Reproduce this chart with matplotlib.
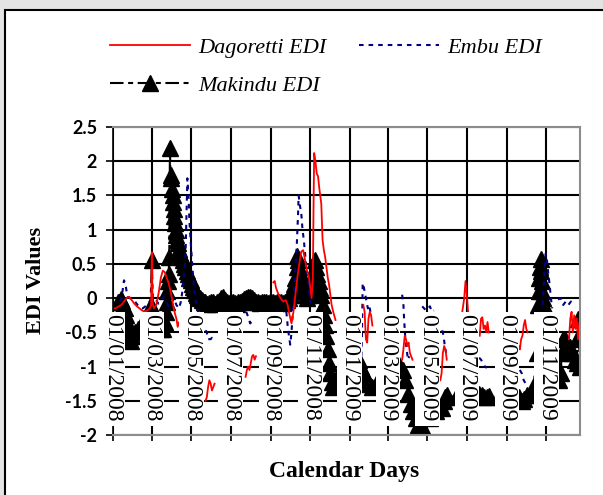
import numpy as np
import matplotlib
matplotlib.use('Agg')
import matplotlib.pyplot as plt
import matplotlib.dates as mdates
from matplotlib.patches import Rectangle
from matplotlib.font_manager import FontProperties
import pandas as pd

# daily EDI; day = days since 01/01/2008, nan = gap
START = np.datetime64('2008-01-01')
END = np.datetime64('2009-12-23')
nan = np.nan

dag_day = [0, 4, 9, 13, 17, 21, 25, 29, 33, 37, 41, 45, 49, 53, 57, 59, 60, 61, 63, 67, 71, 74,
           77, 80, 83, 86, 89, 92, 95, 98, 100, 102, 104, 120,
           143, 145, 147, 149, 151, 153, 155, 157, 180,
           205, 207, 209, 211, 213, 215, 217, 219, 221, 235,
           248, 250, 252, 254, 256, 259, 263, 267, 270, 273, 276, 279, 282, 285, 288, 291, 294,
           297, 300, 303, 305, 307, 309, 310, 311, 313, 315, 317, 319, 321, 322, 323, 324, 326,
           328, 330, 332, 334, 336, 338, 341, 344, 365,
           387, 389, 391, 393, 395, 397, 399, 401, 425,
           447, 449, 451, 453, 455, 457, 459, 461, 463, 490,
           506, 508, 510, 512, 514, 516, 530,
           540, 543, 545, 547, 549, 558,
           567, 569, 571, 573, 575, 577, 579, 581, 600,
           627, 629, 631, 633, 635, 637, 639, 641, 670,
           705, 707, 709, 711, 713, 715, 717, 719, 721]
dag_edi = [-0.15, -0.15, -0.12, -0.1, -0.05, 0.0, 0.02, -0.03, -0.08, -0.12, -0.15, -0.18, -0.2,
           -0.18, -0.15, -0.1, 0.67, -0.05, -0.15, -0.1, 0.1, 0.3,
           0.4, 0.38, 0.3, 0.22, 0.1, -0.05, -0.2, -0.3, -0.42, -0.35, -0.4, nan,
           -1.5, -1.45, -1.3, -1.2, -1.25, -1.35, -1.3, -1.25, nan,
           -1.15, -1.05, -1.0, -1.05, -0.95, -0.85, -0.83, -0.9, -0.85, nan,
           0.23, 0.25, 0.15, 0.1, 0.05, 0.0, -0.05, -0.03, -0.1, -0.25, -0.37, -0.2, 0.05, 0.3,
           0.5, 0.68, 0.7, 0.55, 0.4, 0.3, 0.15, 0.0, 0.3, 1.3, 2.12, 2.0, 1.82, 1.78, 1.6, 1.45,
           1.38, 1.1, 0.85, 0.7, 0.6, 0.45, 0.3, 0.2, 0.05, -0.1, -0.22, -0.32, nan,
           -0.1, -0.2, -0.6, -0.65, -0.3, -0.2, -0.25, -0.4, nan,
           -0.9, -0.75, -0.55, -0.6, -0.7, -0.65, -0.8, -0.85, -0.9, nan,
           -1.2, -1.1, -0.8, -0.7, -0.75, -0.9, nan,
           -0.2, 0.0, 0.25, 0.05, -0.2, nan,
           -0.55, -0.3, -0.28, -0.45, -0.4, -0.5, -0.35, -0.5, nan,
           -0.7, -0.75, -0.6, -0.55, -0.4, -0.32, -0.45, -0.5, nan,
           -0.6, -0.3, -0.2, -0.5, -0.25, -0.45, -0.3, -0.6, -0.35]

emb_day = [10, 13, 15, 17, 19, 21, 23, 26, 30, 34, 38, 42, 46, 50, 54, 58, 62, 66, 70, 74, 78,
           82, 86, 90, 94, 98, 102, 105, 108, 110, 112, 113, 114, 115, 116, 117, 118, 120, 122,
           124, 126, 128, 130, 133, 137,
           143, 145, 147, 149, 151, 153, 155, 175,
           206, 208, 210, 212, 214, 240,
           268, 270, 272, 274, 276, 278, 280, 282, 284, 286, 287, 289, 291, 293, 295, 297, 299,
           301, 303, 305, 307, 320,
           384, 385, 386, 388, 390, 392, 394, 396, 398, 420,
           447, 449, 450, 451, 452, 454, 456, 458, 470,
           478, 481, 484, 487, 490, 493, 496, 503,
           509, 511, 513, 515, 540,
           566, 569, 572, 575, 578, 600,
           629, 632, 635, 638, 641, 652,
           664, 666, 668, 669, 671, 673, 675, 677, 679, 684,
           688, 692, 696, 700, 704, 708, 712]
emb_edi = [-0.05, 0.0, 0.12, 0.26, 0.22, 0.1, 0.02, 0.0, -0.02, -0.05, -0.1, -0.14, -0.15, -0.12,
           -0.08, -0.03, 0.0, -0.02, -0.08, -0.05, 0.02,
           -0.05, -0.12, -0.08, 0.0, -0.1, -0.15, -0.05, 0.15, 0.35, 0.6, 1.0, 1.4, 1.75, 1.6,
           1.45, 1.15, 0.85, 0.55, 0.3, 0.1, -0.05, -0.15, -0.25, nan,
           -0.47, -0.5, -0.6, -0.6, -0.6, -0.58, -0.6, nan,
           -0.2, -0.25, -0.3, -0.37, -0.35, nan,
           -0.2, -0.4, -0.55, -0.68, -0.5, -0.2, 0.1, 0.45, 0.75, 1.2, 1.5, 1.35, 1.25, 1.0,
           0.85, 0.65, 0.45, 0.3, 0.1, -0.05, -0.15, nan,
           -0.85, -0.5, 0.22, 0.15, 0.05, -0.05, -0.15, -0.1, -0.2, nan,
           0.05, -0.1, -0.3, -0.45, -0.6, -0.75, -0.9, -0.85, nan,
           -0.12, -0.15, -0.18, -0.15, -0.12, -0.2, -0.18, nan,
           -0.47, -0.55, -0.7, -0.8, nan,
           -0.87, -0.9, -0.95, -1.0, -1.02, nan,
           -1.05, -1.1, -1.2, -1.25, -1.3, nan,
           -0.1, 0.2, 0.5, 0.65, 0.55, 0.35, 0.2, 0.0, -0.15, nan,
           -0.02, 0.0, -0.1, -0.05, -0.1, -0.05, -0.1]

mak_day = [8, 10, 12, 14, 16, 18, 20, 22, 24, 26, 28, 30, 34, 38, 44, 50, 55, 58, 60, 62, 66, 70,
           74, 78, 80, 82, 83, 84, 85, 86, 87, 88, 89, 90, 91, 92, 93, 94, 95, 96, 97, 98, 99, 100,
           102, 104, 106, 108, 110, 112, 114, 116, 118, 120, 122, 124, 126, 128, 130, 132, 134,
           137, 140, 143, 146, 149, 152, 155, 158, 161, 164, 167, 170, 173, 176, 179, 182, 185,
           188, 191, 194, 197, 200, 203, 206, 209, 212, 215, 218, 221, 224, 227, 230, 233, 236,
           239, 242, 245, 248, 251, 254, 257, 260, 263, 266, 269, 272, 275, 278, 280, 282, 284,
           285, 286, 288, 290, 292, 294, 296, 298, 300, 302, 304, 306, 308, 310, 312, 313, 314,
           316, 318, 320, 322, 324, 326, 328, 330, 332, 334, 336, 338, 340, 344, 350, 358, 366,
           372, 376, 380, 384, 388, 392, 396, 400, 410, 420, 430, 440, 444, 448, 452, 456, 460,
           464, 468, 472, 476, 480, 490, 500, 508, 511, 514, 517, 530, 550, 566, 570, 574, 578,
           582, 600, 620, 628, 632, 636, 640, 644, 650, 655, 657, 658, 659, 660, 661, 662, 663,
           664, 665, 666, 670, 676, 682, 688, 690, 692, 694, 696, 699, 702, 706, 710, 714, 717,
           718, 719, 720, 722]
mak_edi = [-0.05, -0.05, -0.02, -0.04, -0.1, -0.15, -0.25, -0.35, -0.45, -0.55, -0.62, -0.55,
           -0.5, -0.45, -0.4, -0.35, -0.3, -0.1, 0.55, -0.2, -0.35, -0.4,
           -0.45, -0.45, -0.35, -0.2, -0.05, 0.1, 0.25, 0.35, 0.6, 2.2, 1.8, 1.75, 1.6, 1.5, 1.4,
           1.3, 1.2, 1.1, 1.0, 0.92, 0.85, 0.8,
           0.72, 0.66, 0.6, 0.55, 0.5, 0.45, 0.4, 0.35, 0.3, 0.26, 0.21, 0.16, 0.12, 0.08, 0.05,
           0.02, 0.0,
           -0.03, -0.05, -0.06, -0.08, -0.07, -0.05, -0.06, -0.08, -0.06, -0.04, 0.0, 0.02, -0.03,
           -0.06, -0.07, -0.06, -0.05,
           -0.07, -0.08, -0.06, -0.05, -0.04, -0.02, 0.0, 0.02, 0.02, 0.0, -0.03, -0.05, -0.06,
           -0.07, -0.06, -0.05, -0.06,
           -0.07, -0.06, -0.05, -0.06, -0.07, -0.06, -0.05, -0.06, -0.07, -0.05, -0.03, 0.0, 0.05,
           0.1, 0.2, 0.3, 0.45,
           0.62, 0.55, 0.45, 0.35, 0.3, 0.2, 0.1, 0.05, 0.0, 0.05, 0.1, 0.15, 0.25, 0.35, 0.45,
           0.55, 0.45,
           0.35, 0.25, 0.15, 0.05, -0.1, -0.25, -0.4, -0.55, -0.75, -0.95, -1.1, -1.22, -1.3,
           -1.25, -1.1, -1.0, -0.95,
           -0.9, -0.85, -0.9, -1.0, -1.1, -1.2, -1.25, -1.3, -1.2, -1.1, -1.0, -0.95, -1.0, -1.05,
           -1.2, -1.4, -1.55,
           -1.65, -1.75, -1.85, -1.95, -1.9, -1.75, -1.65, -1.6, -1.5, -1.45, -1.42, -1.45, -1.45,
           -1.4, -1.42, -1.45, -1.45,
           -1.43, -1.45, -1.48, -1.45, -1.5, -1.48, -1.42, -1.42, -1.3, -0.8, -0.1, 0.1, 0.3, 0.45,
           0.57, 0.4, 0.25,
           0.1, 0.0, -0.1, -0.4, -0.7, -0.9, -1.05, -1.2, -1.1, -0.8, -0.6, -0.6, -0.65, -0.72,
           -0.8, -0.9, -0.95,
           -0.6, -0.3, -0.55, -1.0]

# tick dates (every second month) and y ticks
tick_dates = pd.date_range('2008-01-01', '2009-11-01', freq='2MS')
y_ticks = np.arange(-2.0, 2.51, 0.5)


def to_dates(days):
    return START + np.array(days, dtype='timedelta64[D]')


serif = 'Liberation Serif'

fig = plt.figure(figsize=(6.03, 4.95), dpi=100)
fig.patch.set_facecolor('#e4e4e4')
fig.add_artist(Rectangle((5 / 603, -0.1), 1.2, 1.1 - 10 / 495, transform=fig.transFigure,
                         facecolor='white', edgecolor='black', lw=1.5, zorder=-1))

ax = fig.add_axes([113 / 603, 1 - 435 / 495, (580 - 113) / 603, (435 - 127) / 495])

h_mak, = ax.plot(to_dates(mak_day), mak_edi, color='black', lw=1.5,
                 ls=(0, (6.5, 2.2, 2.4, 2.2)), marker='^', ms=11, zorder=2)
h_emb, = ax.plot(to_dates(emb_day), emb_edi, color='#000080', lw=1.5,
                 ls=(0, (2.2, 2.4)), zorder=2.1)
h_dag, = ax.plot(to_dates(dag_day), dag_edi, color='#FF0000', lw=1.3, zorder=2.2)

ax.set_xlim(START, END)
ax.set_ylim(-2, 2.5)

# date labels sit on the zero line, boxed in white (Excel style)
for t in tick_dates:
    xc = mdates.date2num(t)
    ax.add_patch(Rectangle((xc - 19, -1.87), 38, 1.67, facecolor='white', edgecolor='none',
                           zorder=3, clip_on=False))
    ax.text(t, -0.23, t.strftime('%d/%m/%Y'), rotation=270, ha='center', va='top',
            fontsize=17, family=serif, zorder=4, clip_on=False)

ax.set_xticks(tick_dates)
ax.set_xticklabels([])
ax.set_yticks(y_ticks)
ax.set_yticklabels([f'{v:g}' for v in y_ticks], fontsize=13, fontweight='bold',
                   family='Lato')
ax.tick_params(axis='x', direction='out', length=4.5, width=1.2, color='black')
ax.tick_params(axis='y', direction='out', length=5, width=1.2, pad=6.5, color='black')

ax.grid(True, color='black', lw=1.5)
ax.set_axisbelow(True)
for side in ['top', 'right', 'bottom']:
    ax.spines[side].set_color('#8c8c8c')
    ax.spines[side].set_linewidth(1.5)
ax.spines['left'].set_color('black')
ax.spines['left'].set_linewidth(1.2)

leg = ax.legend([h_dag, h_mak, h_emb], ['Dagoretti EDI', 'Makindu EDI', 'Embu EDI'],
                ncol=2, loc='upper left', bbox_to_anchor=(110 / 603, 1 - 37 / 495),
                bbox_transform=fig.transFigure, frameon=False,
                prop=FontProperties(family=serif, style='italic', size=16),
                handlelength=3.6, handletextpad=0.35, columnspacing=1.5, labelspacing=0.8,
                borderpad=0, borderaxespad=0, numpoints=1)

fig.text(36 / 603, 1 - 280 / 495, 'EDI Values', rotation=90, ha='center', va='center',
         fontsize=16, fontweight='bold', family=serif)
fig.text(344 / 603, 1 - 471 / 495, 'Calendar Days', ha='center', va='center',
         fontsize=17, fontweight='bold', family=serif)

fig.savefig('out.png', dpi=100)
